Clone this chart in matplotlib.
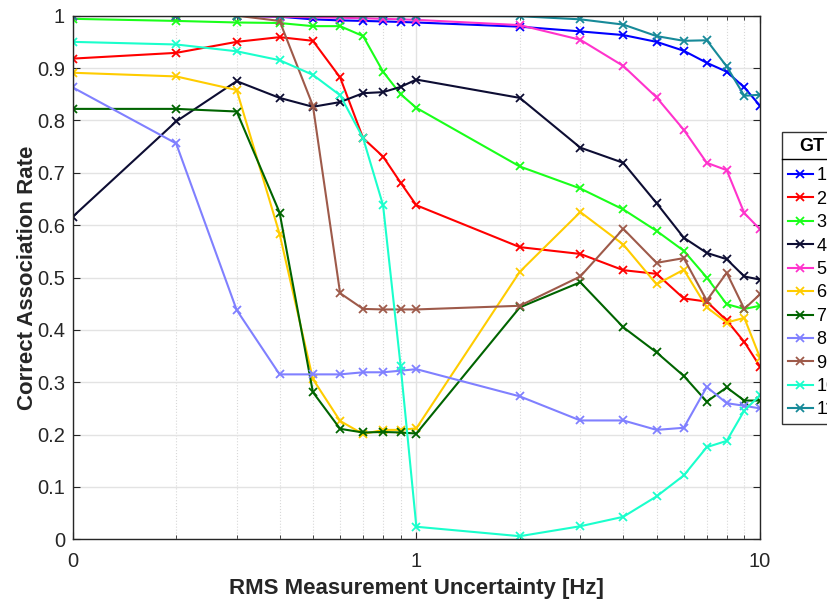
import numpy as np
import matplotlib
matplotlib.use('Agg')
import matplotlib.pyplot as plt
from matplotlib.lines import Line2D

plt.rcParams['font.family'] = ['Liberation Sans', 'DejaVu Sans']

# RMS uncertainty steps; the 0 case sits at the left edge of the log axis (0.1)
rms_hz = [0, 0.2, 0.3, 0.4, 0.5, 0.6, 0.7, 0.8, 0.9, 1, 2, 3, 4, 5, 6, 7, 8, 9, 10]
gt_labels = ['1', '2', '3', '4', '5', '6', '7', '8', '9', '10', '11']

gt1 = [1.0, 1.0, 1.0, 0.998, 0.993, 0.991, 0.990, 0.989, 0.988, 0.987, 0.979, 0.970, 0.963, 0.950, 0.933, 0.910, 0.893, 0.863, 0.828]
gt2 = [0.918, 0.929, 0.950, 0.959, 0.952, 0.882, 0.766, 0.731, 0.681, 0.638, 0.558, 0.545, 0.514, 0.507, 0.460, 0.454, 0.418, 0.377, 0.330]
gt3 = [0.994, 0.990, 0.987, 0.986, 0.980, 0.980, 0.961, 0.893, 0.850, 0.824, 0.712, 0.670, 0.630, 0.589, 0.551, 0.500, 0.449, 0.440, 0.446]
gt4 = [0.616, 0.798, 0.875, 0.843, 0.826, 0.835, 0.852, 0.854, 0.864, 0.878, 0.843, 0.748, 0.719, 0.642, 0.576, 0.547, 0.535, 0.502, 0.496]
gt5 = [1.0, 1.0, 1.0, 0.998, 0.997, 0.996, 0.995, 0.994, 0.993, 0.992, 0.982, 0.954, 0.904, 0.844, 0.782, 0.719, 0.705, 0.623, 0.592]
gt6 = [0.891, 0.884, 0.858, 0.583, 0.306, 0.226, 0.201, 0.209, 0.209, 0.212, 0.511, 0.625, 0.563, 0.487, 0.515, 0.443, 0.414, 0.423, 0.347]
gt7 = [0.822, 0.822, 0.817, 0.624, 0.281, 0.211, 0.204, 0.205, 0.204, 0.202, 0.443, 0.491, 0.405, 0.357, 0.312, 0.263, 0.290, 0.265, 0.265]
gt8 = [0.863, 0.756, 0.438, 0.315, 0.315, 0.315, 0.319, 0.319, 0.322, 0.325, 0.273, 0.227, 0.227, 0.209, 0.213, 0.291, 0.260, 0.255, 0.250]
gt9 = [1.0, 1.0, 1.0, 0.990, 0.828, 0.470, 0.440, 0.439, 0.439, 0.439, 0.446, 0.502, 0.593, 0.528, 0.537, 0.456, 0.509, 0.440, 0.468]
gt10 = [0.950, 0.945, 0.932, 0.915, 0.887, 0.848, 0.766, 0.638, 0.331, 0.024, 0.006, 0.025, 0.043, 0.082, 0.122, 0.176, 0.188, 0.246, 0.275]
gt11 = [1.0, 1.0, 1.0, 1.0, 1.0, 1.0, 1.0, 1.0, 1.0, 1.0, 0.999, 0.993, 0.983, 0.961, 0.952, 0.953, 0.903, 0.847, 0.849]

series = [gt1, gt2, gt3, gt4, gt5, gt6, gt7, gt8, gt9, gt10, gt11]
colors = ['#0000ff', '#ff0000', '#1aff1a', '#0d0d33', '#ff33cc', '#ffcc00',
          '#006400', '#8080ff', '#9e5a4a', '#1affcc', '#178a99']

x = np.array(rms_hz, dtype=float)
x[x == 0] = 0.1

fig = plt.figure(figsize=(8.27, 6.03), dpi=100)
ax = fig.add_axes([0.0879, 0.1056, 0.8311, 0.8684])

for vals, c, lab in zip(series, colors, gt_labels):
    ax.plot(x, vals, color=c, lw=1.5, marker='x', ms=5.5, mew=1.3, label=lab)

ax.set_xscale('log')
ax.set_xlim(0.1, 10)
ax.set_ylim(0, 1)
ax.set_xticks([0.1, 1, 10])
ax.set_xticklabels(['0', '1', '10'])
ax.set_xticks([0.2, 0.3, 0.4, 0.5, 0.6, 0.7, 0.8, 0.9, 2, 3, 4, 5, 6, 7, 8, 9], minor=True)
ax.set_xticklabels([], minor=True)
ax.set_yticks(np.arange(0, 1.01, 0.1))
ax.set_yticklabels(['0', '0.1', '0.2', '0.3', '0.4', '0.5', '0.6', '0.7', '0.8', '0.9', '1'])

ax.grid(True, which='major', color='#e3e3e3', lw=1)
ax.grid(True, which='minor', axis='x', color='#d8d8d8', lw=0.8, ls=':')
ax.set_axisbelow(True)
ax.tick_params(which='both', direction='in', top=True, right=True, labelsize=14.5,
               colors='#262626', length=5)
ax.tick_params(which='minor', length=3)
ax.tick_params(axis='x', which='major', pad=9)
ax.tick_params(axis='y', which='major', pad=5.5)
for sp in ax.spines.values():
    sp.set_color('#262626')
    sp.set_linewidth(1)

ax.set_xlabel('RMS Measurement Uncertainty [Hz]', fontsize=16, fontweight='bold', color='#262626')
ax.set_ylabel('Correct Association Rate', fontsize=16, fontweight='bold', color='#262626')
ax.xaxis.set_label_coords(0.5, -0.074)
ax.yaxis.set_label_coords(-0.050, 0.5)

leg = ax.legend(loc='upper left', bbox_to_anchor=(1.0324, 0.777), fontsize=13,
                title='GT', title_fontproperties={'weight': 'bold', 'size': 13},
                frameon=True, fancybox=False, edgecolor='black', borderpad=0.3,
                labelspacing=0.355, handlelength=1.4, handletextpad=0.2,
                borderaxespad=0)
leg.get_frame().set_linewidth(1)
leg._legend_box.sep = 9

# separator line under the legend title
fig.canvas.draw()
fb = leg.get_frame().get_window_extent()
tb = leg.get_title().get_window_extent()
inv = fig.transFigure.inverted()
(x0, y0) = inv.transform((fb.x0, tb.y0 - 4))
(x1, _) = inv.transform((fb.x1, tb.y0 - 4))
fig.add_artist(Line2D([x0, x1], [y0, y0], color='black', lw=1, transform=fig.transFigure))

fig.savefig('out.png', dpi=100)
